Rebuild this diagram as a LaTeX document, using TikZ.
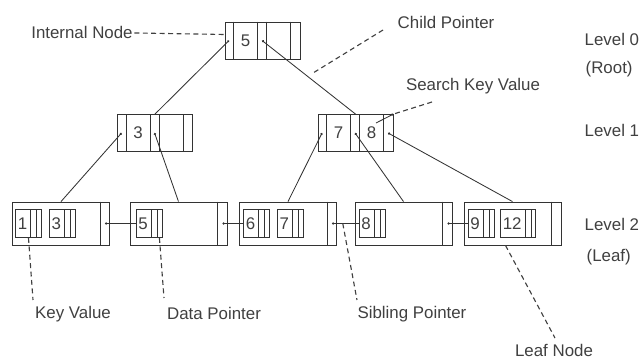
\documentclass[tikz,border=0pt]{standalone}
\usepackage{fontspec}
\setmainfont{Liberation Sans}
\usepackage{tikz}
\usetikzlibrary{arrows.meta,positioning,calc}

\tikzset{
  ink/.style={draw=black!80, line width=0.6pt},
  ptr/.style={ink, {Circle[length=1.6pt]}-},
  annot/.style={draw=black!75, line width=0.8pt, dash pattern=on 3.5pt off 2.5pt},
  innode/.style={ink, rectangle, minimum width=1.875cm, minimum height=0.925cm, inner sep=0pt},
  leafnode/.style={ink, rectangle, minimum width=2.425cm, minimum height=1.075cm, inner sep=0pt},
  keybox/.style={ink, rectangle, minimum width=0.65cm, minimum height=0.7cm, inner xsep=0.05cm, inner ysep=0pt,
    text=black!75, font=\fontsize{12pt}{14pt}\selectfont},
  keytxt/.style={text=black!75, font=\fontsize{12pt}{14pt}\selectfont, inner sep=0pt},
  lbl/.style={text=black!75, font=\fontsize{12pt}{14pt}\selectfont, inner sep=1pt}
}

\begin{document}
\begin{tikzpicture}[x=0.025cm, y=-0.025cm]
  \useasboundingbox (0,0) rectangle (640,360);
  % internal nodes
  \node[innode] (root) at (262.5,40.5) {};
  \node[innode] (inL) at (155,133) {};
  \node[innode] (inR) at (355.5,133) {};
  \foreach \n in {root,inL,inR}{
    \foreach \d in {9,33,42,66}
      \draw[ink] ($(\n.north west)+(\d,0)$) -- ($(\n.south west)+(\d,0)$);
    \coordinate (\n-p1) at ($(\n.west)+(4.5,0)$);
    \coordinate (\n-p2) at ($(\n.west)+(37.5,0)$);
    \coordinate (\n-p3) at ($(\n.west)+(70.5,0)$);
  }
  \node[keytxt] (root-k1) at ($(root.west)+(21,0)$) {5};
  \node[keytxt] (inL-k1) at ($(inL.west)+(21,0)$) {3};
  \node[keytxt] (inR-k1) at ($(inR.west)+(21,0)$) {7};
  \node[keytxt] (inR-k2) at ($(inR.west)+(54,0)$) {8};

  % leaf nodes
  \node[leafnode] (leafA) at (61,223.5) {};
  \node[leafnode] (leafB) at (178.5,223.5) {};
  \node[leafnode] (leafC) at (288,223.5) {};
  \node[leafnode] (leafD) at (403.5,223.5) {};
  \node[leafnode] (leafE) at (512.5,223.5) {};
  \foreach \n in {leafA,leafB,leafC,leafD,leafE}
    \draw[ink] ($(\n.north east)+(-10,0)$) -- ($(\n.south east)+(-10,0)$);

  \node[keybox, right=0.075cm of leafA.west] (kA1) {1\kern0.3cm};
  \node[keybox, right=0.175cm of kA1] (kA2) {3\kern0.3cm};
  \node[keybox, right=0.15cm of leafB.west] (kB1) {5\kern0.3cm};
  \node[keybox, right=0.1cm of leafC.west] (kC1) {6\kern0.3cm};
  \node[keybox, right=0.175cm of kC1] (kC2) {7\kern0.3cm};
  \node[keybox, right=0.1cm of leafD.west] (kD1) {8\kern0.3cm};
  \node[keybox, right=0.1cm of leafE.west] (kE1) {9\kern0.3cm};
  \node[keybox, right=0.15cm of kE1] (kE2) {12\kern0.3cm};
  \foreach \k in {kA1,kA2,kB1,kC1,kC2,kD1,kE1,kE2}{
    \draw[ink] ($(\k.north east)+(-11,0)$) -- ($(\k.south east)+(-11,0)$);
    \draw[ink] ($(\k.north east)+(-5,0)$) -- ($(\k.south east)+(-5,0)$);
  }

  % tree pointers
  \draw[ptr] (root-p1) -- (inL.north);
  \draw[ptr] (root-p2) -- (inR.north);
  \draw[ptr] (inL-p1) -- (leafA.north);
  \draw[ptr] (inL-p2) -- (leafB.north);
  \draw[ptr] (inR-p1) -- (leafC.north);
  \draw[ptr] (inR-p2) -- (leafD.north);
  \draw[ptr] (inR-p3) -- (leafE.north);

  % sibling pointers
  \draw[ptr] ($(leafA.east)+(-5,0)$) -- (kB1.west);
  \draw[ptr] ($(leafB.east)+(-5,0)$) -- (kC1.west);
  \draw[ptr] ($(leafC.east)+(-5,0)$) -- (kD1.west);
  \draw[ptr] ($(leafD.east)+(-5,0)$) -- (kE1.west);

  % labels
  \node[lbl, anchor=base] (lblInternal) at (82,39) {Internal Node};
  \node[lbl, anchor=base] (lblChild) at (446,29) {Child Pointer};
  \node[lbl, anchor=base] (lblSearch) at (473,91) {Search Key Value};
  \node[lbl, anchor=base] (lblKey) at (73,319) {Key Value};
  \node[lbl, anchor=base] (lblData) at (214,320) {Data Pointer};
  \node[lbl, anchor=base] (lblSibling) at (412,319) {Sibling Pointer};
  \node[lbl, anchor=base] (lblLeaf) at (554,357) {Leaf Node};
  \node[lbl, anchor=base west] (lev0) at (583,46) {Level 0};
  \node[lbl, anchor=base west] (lev0b) at (584,74) {(Root)};
  \node[lbl, anchor=base west] (lev1) at (583,137) {Level 1};
  \node[lbl, anchor=base west] (lev2) at (583,231) {Level 2};
  \node[lbl, anchor=base west] (lev2b) at (585,262) {(Leaf)};

  % annotation connectors
  \coordinate (intTip) at ($(root.west)+(0,-6)$);
  \coordinate (cpStart) at (383,30);
  \coordinate (cpTip) at (313,73);
  \coordinate (skvStart) at (432,102);
  \coordinate (skvTip) at (376,123);
  \coordinate (kvTip) at (33,300);
  \coordinate (dpTip) at (164,298);
  \coordinate (spStart) at ($(leafC.east)!0.27!(kD1.west)$);
  \coordinate (spTip) at (357,300);
  \coordinate (lnTip) at (555,338);
  \draw[annot] (lblInternal.east) -- (intTip);
  \draw[annot] (cpStart) -- (cpTip);
  \draw[annot] (skvStart) -- (inR.north east);
  \draw[ptr] (inR.north east) -- (skvTip);
  \draw[annot] (kA1.south) -- (kvTip);
  \draw[annot] ($(kB1.south east)+(-3,0)$) -- (dpTip);
  \draw[annot] (spStart) -- (spTip);
  \draw[annot] ($(leafE.south)+(-7,0)$) -- (lnTip);
\end{tikzpicture}
\end{document}
